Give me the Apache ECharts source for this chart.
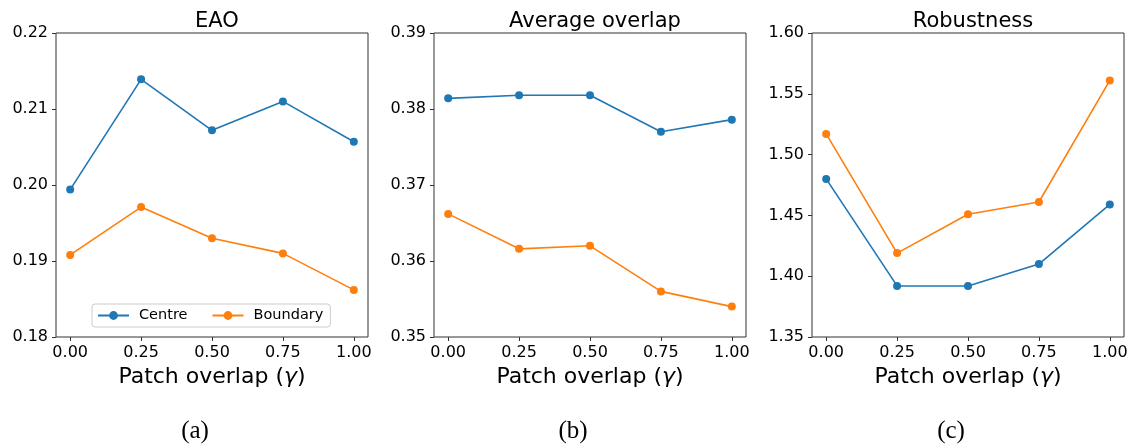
<!DOCTYPE html>
<html>
<head>
<meta charset="utf-8">
<script src="https://cdn.jsdelivr.net/npm/echarts@6/dist/echarts.min.js"></script>
<style>
  html, body { margin: 0; padding: 0; background: #fff; }
  #chart { width: 1136px; height: 445px; }
</style>
</head>
<body>
<div id="chart"></div>
<script>
// Patch overlap values on the x axis
const gammaValues = [0, 0.25, 0.5, 0.75, 1.0];
const xTicks = [0, 0.25, 0.5, 0.75, 1.0];

// EAO
const eaoCentre   = [0.1994, 0.2139, 0.2072, 0.2110, 0.2057];
const eaoBoundary = [0.1908, 0.1971, 0.1930, 0.1910, 0.1862];
const eaoTicks = [0.18, 0.19, 0.20, 0.21, 0.22];

// Average overlap
const overlapCentre   = [0.3814, 0.3818, 0.3818, 0.3770, 0.3786];
const overlapBoundary = [0.3662, 0.3616, 0.3620, 0.3560, 0.3540];
const overlapTicks = [0.35, 0.36, 0.37, 0.38, 0.39];

// Robustness
const robCentre   = [1.480, 1.392, 1.392, 1.410, 1.459];
const robBoundary = [1.517, 1.419, 1.451, 1.461, 1.561];
const robTicks = [1.35, 1.40, 1.45, 1.50, 1.55, 1.60];

const panelTitles = ['EAO', 'Average overlap', 'Robustness'];
const captions = ['(a)', '(b)', '(c)'];
const seriesNames = ['Centre', 'Boundary'];
const xLabel = 'Patch overlap ({g|γ})';

const BLUE = '#1f77b4', ORANGE = '#ff7f0e';
const FONT = 'DejaVu Sans';
const SPINE = '#333';

const panels = [
  { left: 56,  centre: eaoCentre,     boundary: eaoBoundary,     ticks: eaoTicks,     capX: 190 },
  { left: 434, centre: overlapCentre, boundary: overlapBoundary, ticks: overlapTicks, capX: 568 },
  { left: 812, centre: robCentre,     boundary: robBoundary,     ticks: robTicks,     capX: 946 }
];
const GRID_W = 312, GRID_TOP = 33, GRID_H = 304;

const grids = [], xAxes = [], yAxes = [], series = [], titles = [];

panels.forEach((p, i) => {
  grids.push({
    left: p.left, top: GRID_TOP, width: GRID_W, height: GRID_H,
    show: true, borderColor: SPINE, borderWidth: 1, backgroundColor: 'transparent'
  });
  xAxes.push({
    type: 'value', gridIndex: i, min: -0.05, max: 1.05,
    splitLine: { show: false },
    axisLine: { show: false, onZero: false },
    axisTick: { show: true, inside: false, length: 4, customValues: xTicks, lineStyle: { color: SPINE, width: 1 } },
    axisLabel: {
      customValues: xTicks, margin: 8, color: '#000', fontFamily: FONT, fontSize: 16,
      formatter: v => v.toFixed(2)
    },
    name: xLabel, nameLocation: 'middle', nameGap: 28,
    nameTextStyle: {
      fontFamily: FONT, fontSize: 22, color: '#000',
      rich: { g: { fontFamily: FONT, fontSize: 22, fontStyle: 'italic', color: '#000' } }
    }
  });
  const tmin = p.ticks[0], tmax = p.ticks[p.ticks.length - 1];
  yAxes.push({
    type: 'value', gridIndex: i, min: tmin, max: tmax,
    splitLine: { show: false },
    axisLine: { show: false, onZero: false },
    axisTick: { show: true, inside: false, length: 4, customValues: p.ticks, lineStyle: { color: SPINE, width: 1 } },
    axisLabel: {
      customValues: p.ticks, margin: 8, color: '#000', fontFamily: FONT, fontSize: 16,
      formatter: v => v.toFixed(2)
    }
  });
  [p.centre, p.boundary].forEach((vals, k) => {
    series.push({
      name: seriesNames[k], type: 'line', xAxisIndex: i, yAxisIndex: i,
      data: gammaValues.map((g, j) => [g, vals[j]]),
      symbol: 'circle', symbolSize: 8, showSymbol: true,
      lineStyle: { width: 1.6, color: k ? ORANGE : BLUE },
      itemStyle: { color: k ? ORANGE : BLUE },
      emphasis: { disabled: true }, animation: false, z: 3 + k
    });
  });
  titles.push({
    text: panelTitles[i], left: p.left + GRID_W / 2, top: 6, textAlign: 'center',
    textStyle: { fontFamily: FONT, fontSize: 21, fontWeight: 'normal', color: '#000' }
  });
  titles.push({
    text: captions[i], left: p.capX, top: 414, textAlign: 'center',
    textStyle: { fontFamily: 'Liberation Serif', fontSize: 25, fontWeight: 'normal', color: '#000' }
  });
});

const chart = echarts.init(document.getElementById('chart'), null, { renderer: 'canvas' });
chart.setOption({
  animation: false,
  backgroundColor: '#fff',
  title: titles,
  grid: grids,
  xAxis: xAxes,
  yAxis: yAxes,
  legend: {
    data: seriesNames, left: 92, top: 304,
    orient: 'horizontal', itemWidth: 31, itemHeight: 11, itemGap: 24,
    padding: [4, 7, 4, 5],
    borderColor: '#cccccc', borderWidth: 1, borderRadius: 3,
    backgroundColor: 'rgba(255,255,255,0.8)',
    selectedMode: false,
    textStyle: { fontFamily: FONT, fontSize: 14.5, color: '#000', padding: [0, 0, 0, 5] }
  },
  series: series
});
</script>
</body>
</html>
